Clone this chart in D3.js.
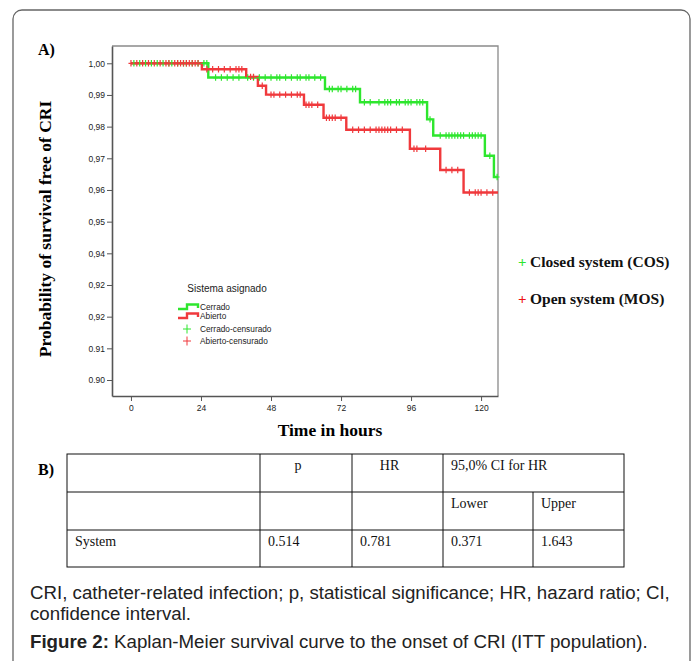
<!DOCTYPE html>
<html>
<head>
<meta charset="utf-8">
<script src="https://cdn.jsdelivr.net/npm/d3@7"></script>
<style>
	body { margin: 0; background: #fff; }
	.serif { font-family: 'Liberation Serif', 'Times New Roman', serif; }
	.sans { font-family: 'Liberation Sans', Arial, sans-serif; }
</style>
</head>
<body>
<script>
// Kaplan-Meier steps (hours, survival)
const closedTimes = [0, 26.5, 66.5, 78.5, 101.5, 103.6, 121.3, 124.4];
const closedSurv = [1.0, 0.9955, 0.9919, 0.9877, 0.9823, 0.9772, 0.9708, 0.9641];
const openTimes = [0, 24.3, 39.5, 43.5, 46.3, 59.3, 66.0, 73.8, 95.6, 106.0, 114.0];
const openSurv = [1.0, 0.9981, 0.9957, 0.9929, 0.9901, 0.9869, 0.9828, 0.9790, 0.9730, 0.9663, 0.9592];
const endTime = 125.8;

// censored observations (hours)
const closedCensored = [1, 3, 5, 7, 9, 11, 13, 14, 16, 18, 19, 21, 23, 25, 26,
	29, 31, 33, 35, 37, 40, 42, 44, 46, 48, 50, 51, 53, 55, 57, 58, 60, 61, 63, 65,
	68, 69, 71, 72, 74, 76, 77, 80, 82, 85, 87, 88, 89, 91, 92, 94, 95, 96, 98, 99, 100,
	102.5, 106, 108, 109, 110, 111, 112, 113, 114, 116, 117, 118, 119, 120, 123, 125.5];
const openCensored = [0, 2, 4, 6, 8, 10, 12, 13, 15, 16, 17, 18, 19, 20, 21, 22, 23,
	26, 28, 30, 32, 34, 36, 37, 38, 41, 42, 45, 48, 49, 51, 53, 55, 57, 58,
	60, 61, 62, 64, 67, 68, 69, 70, 72, 76, 78, 80, 82, 84, 85, 86, 87, 88, 89, 91, 93,
	97, 98, 101, 108, 110, 112, 116, 118, 119, 120, 122, 124];

const xTicks = [0, 24, 48, 72, 96, 120];
const yTicks = [1.00, 0.99, 0.98, 0.97, 0.96, 0.95, 0.94, 0.93, 0.92, 0.91, 0.90];
const yTickLabels = ['1,00', '0,99', '0,98', '0,97', '0,96', '0,95', '0,94', '0,92', '0,92', '0.91', '0.90'];

const tableRows = [
	['', 'p', 'HR', '95,0% CI for HR', ''],
	['', '', '', 'Lower', 'Upper'],
	['System', '0.514', '0.781', '0.371', '1.643']
];

const green = '#2ee62e';
const red = '#f0393c';

const svgSize = {width: 694, height: 661};
const plot = {left: 112, right: 498, top: 46, bottom: 396};

var svg = d3.select('body').append('svg')
	.attr('width', svgSize.width)
	.attr('height', svgSize.height);

// outer frame
svg.append('rect')
	.attr('x', 13).attr('y', 10)
	.attr('width', 677).attr('height', 680)
	.attr('rx', 9)
	.attr('fill', 'none')
	.attr('stroke', '#666')
	.attr('stroke-width', 1.3);

var x = d3.scaleLinear().domain([-6.5, 125.8]).range([plot.left, plot.right]);
var y = d3.scaleLinear().domain([0.89495, 1.00546]).range([plot.bottom, plot.top]);

svg.append('text')
	.attr('class', 'serif')
	.attr('x', 38).attr('y', 55)
	.style('font-weight', 'bold').style('font-size', '16px')
	.text('A)');

// plot box
svg.append('path')
	.attr('d', `M${plot.left},${plot.top}H${plot.right}V${plot.bottom}`)
	.attr('fill', 'none')
	.attr('stroke', '#8a8a8a')
	.attr('stroke-width', 1.3);

var xAxis = svg.append('g')
	.attr('transform', `translate(0, ${plot.bottom})`)
	.call(d3.axisBottom(x).tickValues(xTicks).tickSize(5).tickPadding(4).tickSizeOuter(0));
xAxis.select('.domain').attr('stroke', '#555').attr('stroke-width', 1.6);
xAxis.selectAll('text').attr('class', 'sans').style('font-size', '8.5px').attr('fill', '#222');
xAxis.selectAll('.tick line').attr('stroke', '#555');

var yAxis = svg.append('g')
	.attr('transform', `translate(${plot.left}, 0)`)
	.call(d3.axisLeft(y).tickValues(yTicks).tickSize(5).tickPadding(2).tickSizeOuter(0)
		.tickFormat((d, i) => yTickLabels[i]));
yAxis.select('.domain').attr('stroke', '#555').attr('stroke-width', 1.6);
yAxis.selectAll('text').attr('class', 'sans').style('font-size', '8.5px').attr('fill', '#222');
yAxis.selectAll('.tick line').attr('stroke', '#555');

// axis titles
svg.append('text')
	.attr('class', 'serif')
	.attr('transform', 'rotate(-90)')
	.attr('x', -229).attr('y', 51)
	.style('text-anchor', 'middle')
	.style('font-weight', 'bold').style('font-size', '17.5px')
	.text('Probability of survival free of CRI');

svg.append('text')
	.attr('class', 'serif')
	.attr('x', 330).attr('y', 436)
	.style('text-anchor', 'middle')
	.style('font-weight', 'bold').style('font-size', '17.5px')
	.text('Time in hours');

// curves
function stepData(times, surv) {
	var pts = times.map((t, i) => [t, surv[i]]);
	pts.push([endTime, surv[surv.length - 1]]);
	return pts;
}
function survAt(times, surv, t) {
	var v = surv[0];
	times.forEach((tt, i) => { if (tt <= t) v = surv[i]; });
	return v;
}
var line = d3.line().x(d => x(d[0])).y(d => y(d[1])).curve(d3.curveStepAfter);

var groups = [
	{times: closedTimes, surv: closedSurv, cens: closedCensored, color: green},
	{times: openTimes, surv: openSurv, cens: openCensored, color: red}
];

groups.forEach(g => {
	svg.append('path')
		.datum(stepData(g.times, g.surv))
		.attr('d', line)
		.attr('fill', 'none')
		.attr('stroke', g.color)
		.attr('stroke-width', 2.4);
});

groups.forEach(g => {
	svg.append('g').selectAll('path')
		.data(g.cens)
		.enter()
		.append('path')
		.attr('d', t => {
			var cx = x(t), cy = y(survAt(g.times, g.surv, t));
			return `M${cx - 2.5},${cy}H${cx + 2.5}M${cx},${cy - 3.2}V${cy + 3.2}`;
		})
		.attr('stroke', g.color)
		.attr('stroke-width', 1.2)
		.attr('fill', 'none');
});

// inner legend
svg.append('text')
	.attr('class', 'sans')
	.attr('x', 227).attr('y', 291.5)
	.style('text-anchor', 'middle').style('font-size', '10px').attr('fill', '#222')
	.text('Sistema asignado');

var legendItems = [
	{label: 'Cerrado', color: green, type: 'line', y: 307},
	{label: 'Abierto', color: red, type: 'line', y: 316},
	{label: 'Cerrado-censurado', color: green, type: 'cens', y: 329},
	{label: 'Abierto-censurado', color: red, type: 'cens', y: 341}
];
legendItems.forEach(d => {
	if (d.type === 'line') {
		svg.append('path')
			.attr('d', `M178,${d.y + 2}H187V${d.y - 2.5}H198V${d.y + 1}`)
			.attr('fill', 'none').attr('stroke', d.color).attr('stroke-width', 2.4);
	} else {
		svg.append('path')
			.attr('d', `M183,${d.y}H191M187,${d.y - 4.5}V${d.y + 4.5}`)
			.attr('fill', 'none').attr('stroke', d.color).attr('stroke-width', 1);
	}
	svg.append('text')
		.attr('class', 'sans')
		.attr('x', 200).attr('y', d.y + 3)
		.style('font-size', '8.3px').attr('fill', '#222')
		.text(d.label);
});

// outer legend
var outerLegend = [
	{label: 'Closed system (COS)', color: '#2ee62e', y: 262},
	{label: 'Open system (MOS)', color: '#ee1111', y: 299}
];
outerLegend.forEach(d => {
	svg.append('text')
		.attr('class', 'serif')
		.attr('x', 518).attr('y', d.y + 5)
		.style('font-weight', 'bold').style('font-size', '15px').attr('fill', d.color)
		.text('+');
	svg.append('text')
		.attr('class', 'serif')
		.attr('x', 530).attr('y', d.y + 5)
		.style('font-weight', 'bold').style('font-size', '15.5px').attr('fill', '#111')
		.text(d.label);
});

// table B
svg.append('text')
	.attr('class', 'serif')
	.attr('x', 38).attr('y', 475)
	.style('font-weight', 'bold').style('font-size', '16px')
	.text('B)');

var colX = [67, 260, 352, 443, 533, 624];
var rowY = [454, 492, 530, 567];
var table = svg.append('g');
table.append('rect')
	.attr('x', colX[0]).attr('y', rowY[0])
	.attr('width', colX[5] - colX[0]).attr('height', rowY[3] - rowY[0])
	.attr('fill', 'none').attr('stroke', '#111').attr('stroke-width', 1);
[1, 2].forEach(i => {
	table.append('line')
		.attr('x1', colX[0]).attr('x2', colX[5])
		.attr('y1', rowY[i]).attr('y2', rowY[i])
		.attr('stroke', '#111');
});
// column lines (CI header spans two cells)
[1, 2, 3].forEach(i => {
	table.append('line')
		.attr('x1', colX[i]).attr('x2', colX[i])
		.attr('y1', rowY[0]).attr('y2', rowY[3]).attr('stroke', '#111');
});
table.append('line')
	.attr('x1', colX[4]).attr('x2', colX[4])
	.attr('y1', rowY[1]).attr('y2', rowY[3]).attr('stroke', '#111');

tableRows.forEach((row, r) => {
	row.forEach((cell, c) => {
		if (!cell) return;
		var centered = r === 0 && (c === 1 || c === 2);
		table.append('text')
			.attr('class', 'serif')
			.attr('x', centered ? (colX[c] + colX[c + 1]) / 2 - 8 : colX[c] + 8)
			.attr('y', rowY[r] + 16)
			.style('text-anchor', centered ? 'middle' : 'start')
			.style('font-size', '14px').attr('fill', '#111')
			.text(cell);
	});
});

// caption
svg.append('text')
	.attr('class', 'sans')
	.attr('x', 30).attr('y', 599)
	.style('font-size', '18.7px').attr('fill', '#222')
	.text('CRI, catheter-related infection; p, statistical significance; HR, hazard ratio; CI,');
svg.append('text')
	.attr('class', 'sans')
	.attr('x', 30).attr('y', 620)
	.style('font-size', '18.7px').attr('fill', '#222')
	.text('confidence interval.');
var cap = svg.append('text')
	.attr('class', 'sans')
	.attr('x', 30).attr('y', 648)
	.style('font-size', '18.7px').attr('fill', '#222');
cap.append('tspan').style('font-weight', 'bold').text('Figure 2:');
cap.append('tspan').text(' Kaplan-Meier survival curve to the onset of CRI (ITT population).');
</script>
</body>
</html>
